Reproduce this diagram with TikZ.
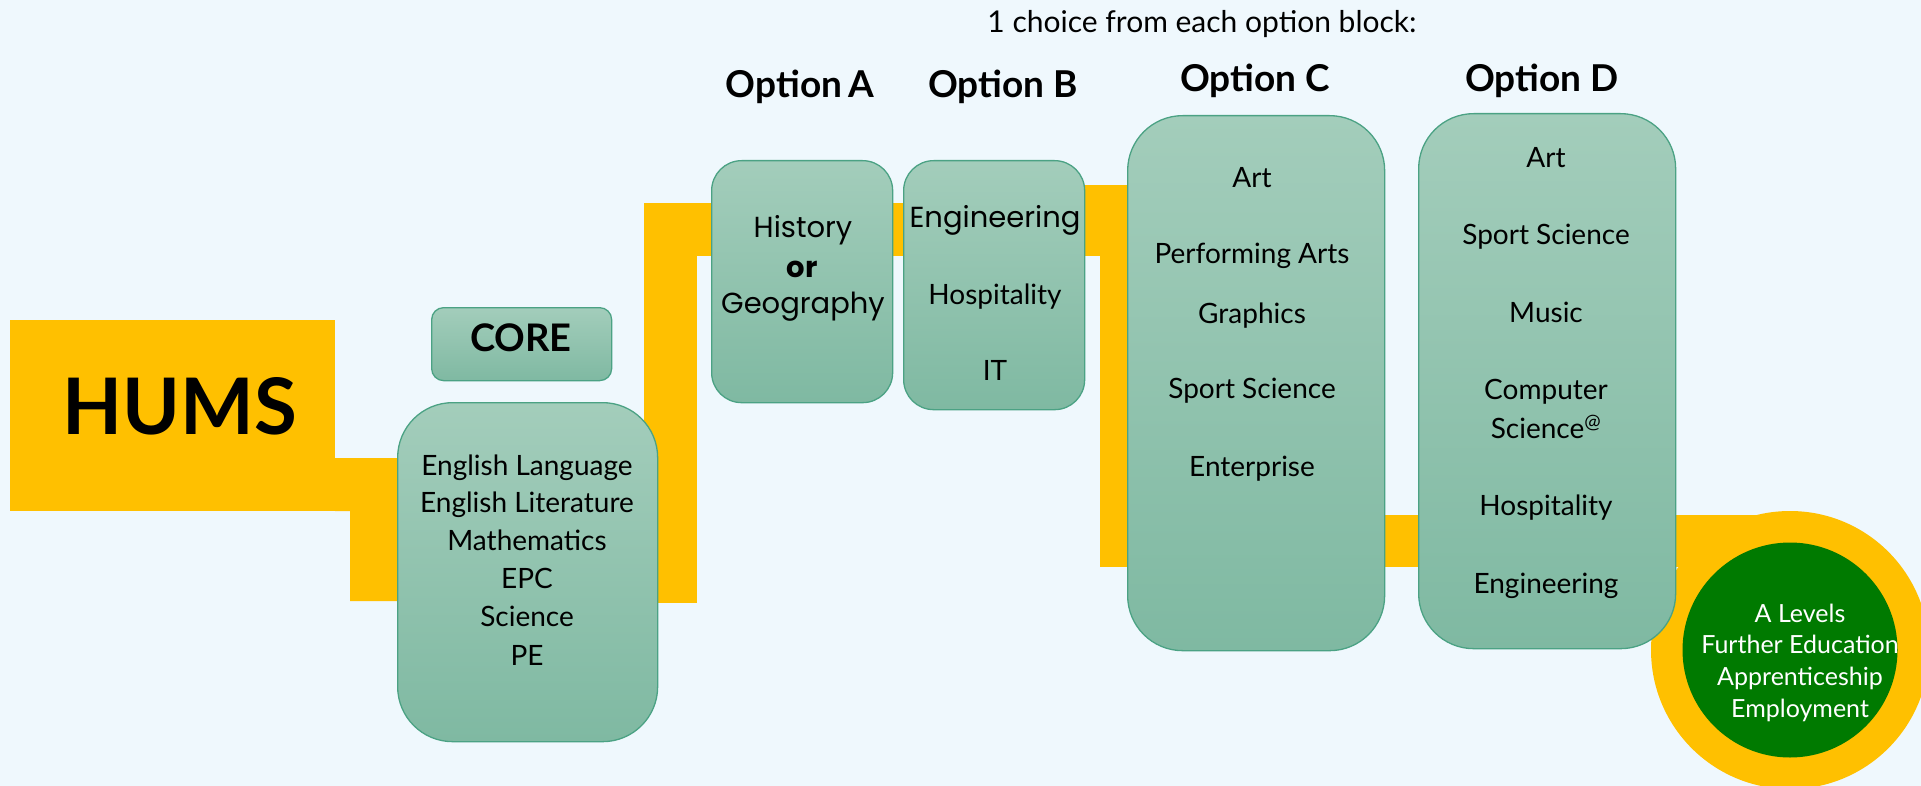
\documentclass[tikz,border=0pt]{standalone}
\usepackage{fontspec}
\setmainfont{Lato}
\newfontfamily\geo{Poppins}
\definecolor{bg}{HTML}{EFF8FD}
\definecolor{gold}{HTML}{FFC000}
\definecolor{boxtop}{HTML}{A3CDBB}
\definecolor{boxbot}{HTML}{7FB9A2}
\definecolor{boxline}{HTML}{4BA284}
\definecolor{circgreen}{HTML}{007A00}
\newcommand{\fs}[1]{\fontsize{#1}{#1}\selectfont}
\begin{document}
\begin{tikzpicture}[x=1pt,y=-1pt,
  box/.style={draw=boxline, line width=1.3pt, top color=boxtop, bottom color=boxbot,
    rounded corners=#1, inner sep=0pt, anchor=north west},
  band/.style={fill=gold},
  lbl/.style={inner sep=0pt, anchor=base, font=\fs{28}},
  head/.style={inner sep=0pt, anchor=base, font=\fs{37}\bfseries},
  wlbl/.style={inner sep=0pt, anchor=base, font=\fs{25}, text=white}]
\useasboundingbox (0,0) rectangle (1921,786);
\clip (0,0) rectangle (1921,786);
\fill[bg] (0,0) rectangle (1921,786);

% yellow ribbons
\fill[band] (335,458) -- (397,458) -- (397,601) -- (350,601) -- (350,511) -- (335,511) -- cycle;
\fill[band] (644,203) rectangle (1090,256);
\fill[band] (644,203) rectangle (697,603);
\fill[band] (1084,185) rectangle (1127,256);
\fill[band] (1100,185) rectangle (1127,567);
\fill[band] (1100,515) rectangle (1790,567);
\fill[band] (1790,650) circle[radius=139pt];

% HUMS
\node[fill=gold, minimum width=325pt, minimum height=191pt, inner sep=0pt, anchor=north west] (hums) at (10,320) {};
\node[inner sep=0pt, anchor=base, font=\fs{78}\bfseries] (humst) at (180,434) {HUMS};

% boxes
\node[box=12pt, minimum width=180pt, minimum height=73pt] (corehead) at (431,307) {};
\node[box=55pt, minimum width=260pt, minimum height=339pt] (core) at (397,402) {};
\node[box=30pt, minimum width=181pt, minimum height=242pt] (optA) at (711,160) {};
\node[box=30pt, minimum width=181pt, minimum height=249pt] (optB) at (903,160) {};
\node[box=55pt, minimum width=257pt, minimum height=535pt] (optC) at (1127,115) {};
\node[box=55pt, minimum width=257pt, minimum height=535pt] (optD) at (1418,113) {};

% outcome circle
\node[circle, fill=circgreen, minimum size=215pt, inner sep=0pt] (outcome) at (1790,650) {};

% title and headings
\node[inner sep=0pt, anchor=base, font=\fs{30}] (title) at (1202,33) {1 choice from each option block:};
\node[head] (hA) at (800,98) {Option\,A};
\node[head] (hB) at (1003,98) {Option B};
\node[head] (hC) at (1255,92) {Option C};
\node[head] (hD) at (1542,92) {Option D};

% core
\node[inner sep=0pt, anchor=base, font=\fs{38}\bfseries] (coret) at (521,351) {CORE};
\node[lbl] (c1) at (527,475) {English Language};
\node[lbl] (c2) at (527,512) {English Literature};
\node[lbl] (c3) at (527,550) {Mathematics};
\node[lbl] (c4) at (527,588) {EPC};
\node[lbl] (c5) at (527,626) {Science};
\node[lbl] (c6) at (527,665) {PE};

% option A
\node[lbl, font=\fs{29}\geo] (a1) at (803,238) {History};
\node[lbl, font=\fs{29}\geo\bfseries] (a2) at (802,277) {or};
\node[lbl, font=\fs{29}\geo] (a3) at (803,313) {Geography};

% option B
\node[lbl, font=\fs{29}\geo] (b1) at (995,228) {Engineering};
\node[lbl] (b2) at (995,305) {Hospitality};
\node[lbl] (b3) at (995,380) {IT};

% option C
\node[lbl] (cc1) at (1252,188) {Art};
\node[lbl] (cc2) at (1252,264) {Performing Arts};
\node[lbl] (cc3) at (1252,323) {Graphics};
\node[lbl] (cc4) at (1252,398) {Sport Science};
\node[lbl] (cc5) at (1252,476) {Enterprise};

% option D
\node[lbl] (d1) at (1546,168) {Art};
\node[lbl] (d2) at (1546,245) {Sport Science};
\node[lbl] (d3) at (1546,322) {Music};
\node[lbl] (d4) at (1546,399) {Computer};
\node[lbl] (d5) at (1546,438) {Science\textsuperscript{@}};
\node[lbl] (d6) at (1546,515) {Hospitality};
\node[lbl] (d7) at (1546,593) {Engineering};

% outcome text
\node[wlbl] (o1) at (1800,622) {A Levels};
\node[wlbl] (o2) at (1800,653) {Further Education};
\node[wlbl] (o3) at (1800,685) {Apprenticeship};
\node[wlbl] (o4) at (1800,717) {Employment};
\end{tikzpicture}
\end{document}
